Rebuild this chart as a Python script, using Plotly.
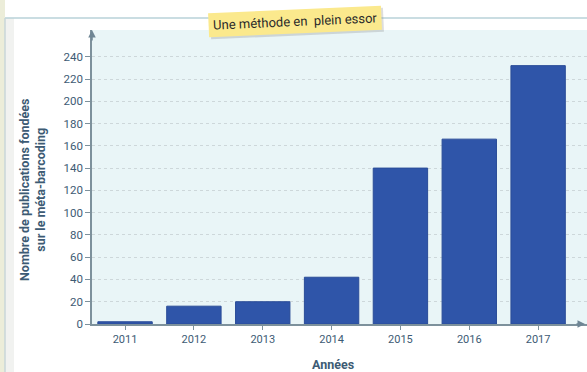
import plotly.graph_objects as go

years = ["2011", "2012", "2013", "2014", "2015", "2016", "2017"]
publications = [2, 16, 20, 42, 140, 166, 232]
y_ticks = [0, 20, 40, 60, 80, 100, 120, 140, 160, 180, 200, 220, 240]

W, H = 587, 372
L, R, T, B = 92, 0, 30, 48
pw = W - L - R
ph = H - T - B

def px_x(p):
    return (p - L) / pw

def px_y(p):
    return (H - B - p) / ph

txt = "#3d5b74"
font_fam = "Roboto, Arial"

fig = go.Figure()
fig.add_trace(go.Bar(
    x=years, y=publications, width=0.79,
    marker=dict(color="#2f55a9", line=dict(color="#2a4c98", width=1)),
))

shapes = [
    dict(type="rect", xref="paper", yref="paper", x0=px_x(0), x1=px_x(5), y0=px_y(H), y1=px_y(0),
         fillcolor="#ecedd9", line_width=0, layer="below"),
    dict(type="rect", xref="paper", yref="paper", x0=px_x(5), x1=px_x(14), y0=px_y(H), y1=px_y(18),
         fillcolor="#f1f2f0", line_width=0, layer="below"),
    dict(type="line", xref="paper", yref="paper", x0=px_x(5), x1=px_x(W), y0=px_y(18), y1=px_y(18),
         line=dict(color="#b9d2d9", width=1.5)),
    dict(type="line", xref="paper", yref="paper", x0=px_x(5), x1=px_x(5), y0=px_y(18), y1=px_y(H),
         line=dict(color="#c9d6d8", width=1.5)),
]

annotations = [
    dict(text="Nombre de publications fondées<br>sur le méta-barcoding", xref="paper", yref="paper",
         x=px_x(33), y=px_y(190), xanchor="center", yanchor="middle", textangle=-90, showarrow=False,
         font=dict(size=12.5, color=txt, family=font_fam, weight="bold")),
    dict(text="Années", xref="paper", yref="paper", x=px_x(333), y=px_y(364),
         xanchor="center", yanchor="middle", showarrow=False,
         font=dict(size=12.5, color=txt, family=font_fam, weight="bold")),
    dict(text="Une méthode en  plein essor", xref="paper", yref="paper", x=px_x(297), y=px_y(23),
         xanchor="center", yanchor="middle",
         showarrow=False, textangle=-2.5, bgcolor="rgba(120,120,120,0.25)", borderpad=4,
         font=dict(size=13, color="rgba(0,0,0,0)", family=font_fam)),
    dict(text="Une méthode en  plein essor", xref="paper", yref="paper", x=px_x(295), y=px_y(21),
         xanchor="center", yanchor="middle",
         showarrow=False, textangle=-2.5, bgcolor="#fbe98d", borderpad=4,
         font=dict(size=13, color="#2a2a2a", family=font_fam)),
    dict(text="", xref="paper", yref="paper", x=0, y=1, ax=0, ay=12, showarrow=True,
         arrowhead=2, arrowsize=1, arrowwidth=1.5, arrowcolor="#6e8594"),
    dict(text="", xref="paper", yref="paper", x=px_x(585), y=0, ax=-10, ay=0, showarrow=True,
         arrowhead=2, arrowsize=1, arrowwidth=1.5, arrowcolor="#6e8594"),
]

fig.update_layout(
    width=W, height=H,
    margin=dict(l=L, r=R, t=T, b=B),
    paper_bgcolor="#ffffff",
    plot_bgcolor="#e9f5f7",
    showlegend=False,
    shapes=shapes,
    annotations=annotations,
)
fig.update_xaxes(
    type="category", range=[-0.48, 6.71],
    showline=True, linecolor="#7d919c", linewidth=1.5,
    ticks="outside", ticklen=4, tickcolor="#7d919c",
    tickfont=dict(size=11, color=txt, family=font_fam),
    showgrid=False,
)
fig.update_yaxes(
    range=[0, 264], tickvals=y_ticks,
    showline=True, linecolor="#7d919c", linewidth=1.5,
    ticks="outside", ticklen=5, tickcolor="#7d919c",
    tickfont=dict(size=11.5, color=txt, family=font_fam),
    showgrid=True, gridcolor="#cdd7da", griddash="dot", gridwidth=1,
    zeroline=False,
)

fig.write_html("out.html")
